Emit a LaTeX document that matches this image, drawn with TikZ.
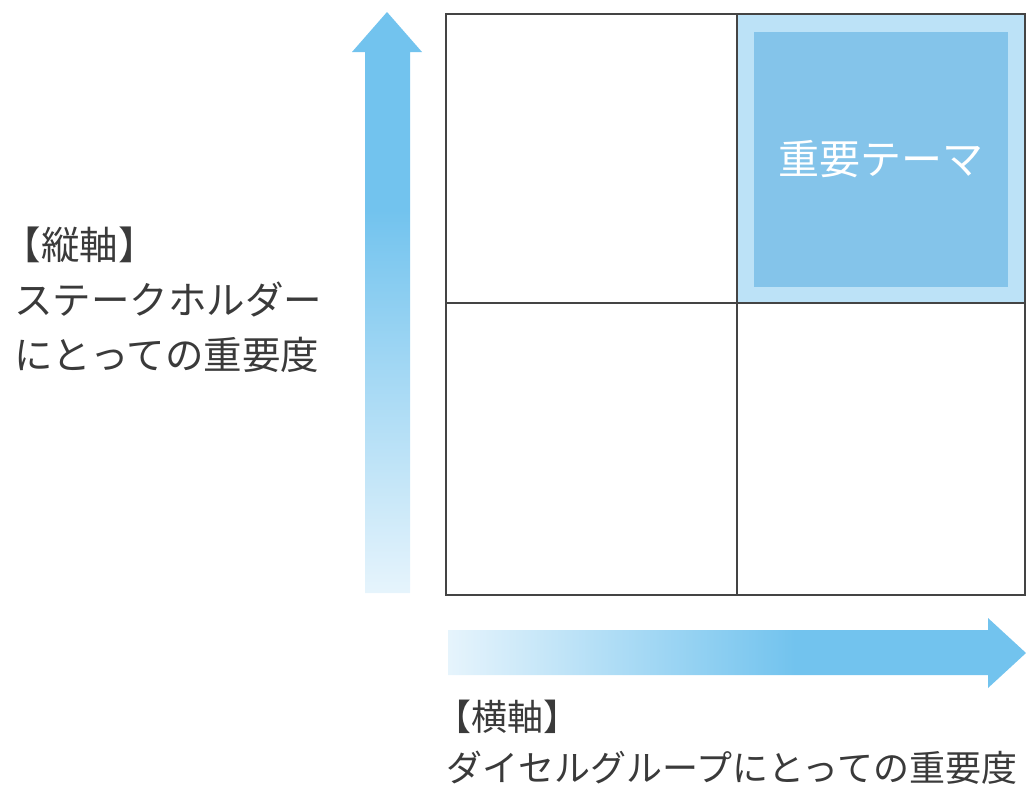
\documentclass[tikz,border=0pt]{standalone}
\usepackage{fontspec}
\setmainfont{Noto Sans CJK JP}
\definecolor{arrblue}{HTML}{72C3EE}
\definecolor{arrlight}{HTML}{E6F4FC}
\definecolor{celllight}{HTML}{BCE2F7}
\definecolor{celldark}{HTML}{84C4EA}
\definecolor{gridline}{HTML}{444444}
\definecolor{txt}{HTML}{3A3A3A}
\pgfdeclareverticalshading{vgrad}{100bp}{color(0bp)=(arrlight); color(25bp)=(arrlight); color(58bp)=(arrblue); color(100bp)=(arrblue)}
\pgfdeclarehorizontalshading{hgrad}{100bp}{color(0bp)=(arrlight); color(25bp)=(arrlight); color(55bp)=(arrblue); color(100bp)=(arrblue)}
\tikzset{
  cellbox/.style={draw=gridline, line width=1.8pt, inner sep=0pt},
  label/.style={text=txt, inner sep=0pt, align=left, anchor=west},
}
\begin{document}
\begin{tikzpicture}[x=1pt,y=-1pt]
\useasboundingbox (0,0) rectangle (1027,787);
% vertical arrow
\path[shading=vgrad] (365,593) -- (365,52) -- (352,52) -- (387,12) -- (422,52) -- (410,52) -- (410,593) -- cycle;
% horizontal arrow
\path[shading=hgrad] (448,630) -- (988,630) -- (988,618) -- (1026,653) -- (988,688) -- (988,675) -- (448,675) -- cycle;
% highlight
\fill[celllight] (738,15) rectangle (1024,302);
\node[fill=celldark, minimum width=254pt, minimum height=255pt, inner sep=0pt, text=white, font=\fontsize{41}{44}\selectfont] (key) at (881,159.5) {重要テーマ};
% grid cells
\node[cellbox, minimum width=291pt, minimum height=289pt] (tl) at (591.5,158.5) {};
\node[cellbox, minimum width=288pt, minimum height=289pt] (tr) at (881,158.5) {};
\node[cellbox, minimum width=291pt, minimum height=292pt] (bl) at (591.5,449) {};
\node[cellbox, minimum width=288pt, minimum height=292pt] (br) at (881,449) {};
% labels
\node[label, font=\fontsize{38.5}{55}\selectfont] (vlab) at (14,300) {\hspace{-0.3em}【縦軸】\\ステークホルダー\\にとっての重要度};
\node[label, font=\fontsize{36}{51}\selectfont] (hlab) at (446,742) {\hspace{-0.3em}【横軸】\\ダイセルグループにとっての重要度};
\end{tikzpicture}
\end{document}
